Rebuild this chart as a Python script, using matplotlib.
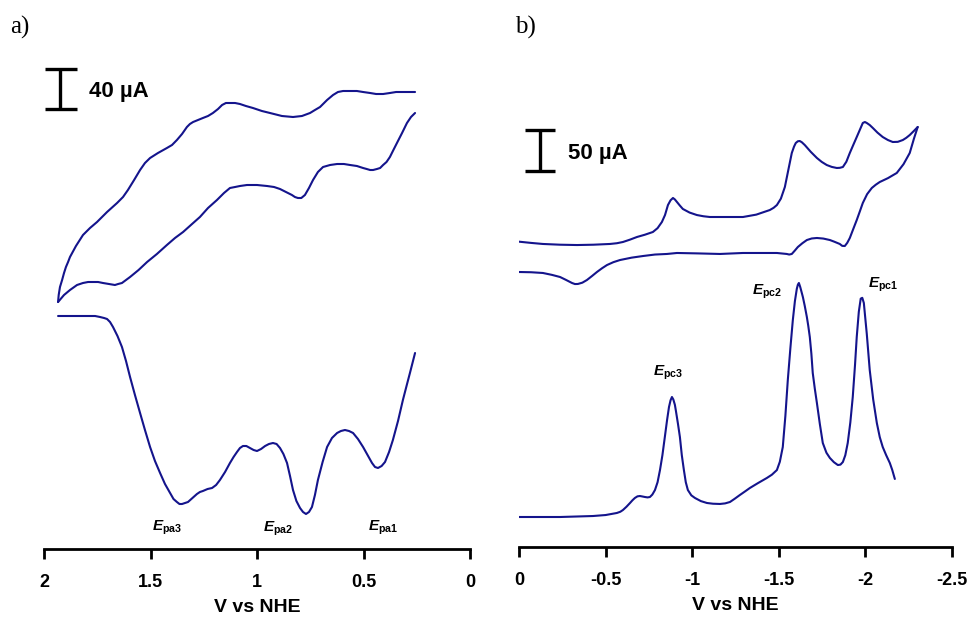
import matplotlib
matplotlib.use('Agg')
import matplotlib.pyplot as plt
import matplotlib.transforms as mtransforms

plt.rcParams['font.family'] = ['Liberation Sans', 'DejaVu Sans']
plt.rcParams['mathtext.fontset'] = 'custom'
plt.rcParams['mathtext.it'] = 'Liberation Sans:italic:bold'
plt.rcParams['mathtext.rm'] = 'Liberation Sans:bold'
plt.rcParams['mathtext.bf'] = 'Liberation Sans:bold'
plt.rcParams['axes.unicode_minus'] = False

LINE = '#14148c'

# ---------------- Panel a (oxidation) ----------------
a_cv_up_V = [1.934, 1.931, 1.925, 1.915, 1.906, 1.897, 1.887, 1.878, 1.850, 1.817,
             1.784, 1.751, 1.704,
             1.657, 1.629, 1.606, 1.577, 1.549, 1.526, 1.502, 1.465, 1.423, 1.399,
             1.376, 1.352, 1.329, 1.315, 1.300, 1.277, 1.254, 1.230, 1.207, 1.183,
             1.164, 1.146, 1.127, 1.103, 1.080, 1.052, 1.019, 0.977, 0.939, 0.883,
             0.831, 0.789, 0.751, 0.728, 0.704, 0.671, 0.643, 0.620, 0.596, 0.563,
             0.531, 0.502, 0.469, 0.441, 0.408, 0.376, 0.347, 0.315, 0.282, 0.258]
a_cv_up_I = [247, 254, 262, 269, 276, 282, 287, 292, 303, 314,
             321, 327, 337,
             346, 352, 359, 369, 379, 386, 391, 396, 401, 404,
             409, 415, 422, 425, 427, 429, 431, 433, 436, 440,
             444, 446, 446, 446, 445, 443, 441, 438, 436, 433,
             432, 433, 436, 439, 442, 449, 454, 457, 458, 458,
             458, 457, 456, 455, 455, 456, 457, 457, 457, 457]
a_cv_lo_V = [0.258, 0.277, 0.296, 0.319, 0.343, 0.362, 0.376, 0.392, 0.408, 0.422,
             0.437, 0.455, 0.469, 0.485, 0.502, 0.531, 0.563, 0.592, 0.624, 0.657,
             0.690, 0.714, 0.737, 0.756, 0.775, 0.792, 0.808, 0.822, 0.836, 0.864,
             0.892, 0.920, 0.953, 1.000, 1.047, 1.080, 1.103, 1.127, 1.155, 1.188,
             1.230, 1.268, 1.305, 1.347, 1.385, 1.423, 1.470, 1.516, 1.556, 1.596,
             1.615, 1.634, 1.652, 1.667, 1.695, 1.723, 1.746, 1.770, 1.793, 1.817,
             1.845, 1.878, 1.906, 1.934]
a_cv_lo_I = [436, 432, 426, 416, 406, 398, 392, 387, 384, 381,
             380, 379, 379, 380, 381, 383, 384, 385, 385, 384,
             382, 377, 369, 361, 354, 351, 351, 352, 354, 357,
             360, 362, 363, 364, 364, 363, 362, 361, 356, 349,
             341, 332, 325, 317, 311, 304, 295, 287, 279, 272,
             269, 266, 265, 264, 265, 266, 267, 267, 267, 266,
             264, 259, 254, 247]
a_dpv_V = [1.934, 1.840, 1.760, 1.737, 1.718, 1.704, 1.690, 1.676, 1.655, 1.634,
           1.615, 1.596, 1.573, 1.549, 1.526, 1.502, 1.479, 1.455, 1.432, 1.408,
           1.392, 1.376, 1.364, 1.352, 1.338, 1.324, 1.303, 1.282, 1.268, 1.254,
           1.232, 1.211, 1.192, 1.174, 1.150, 1.127, 1.110, 1.094, 1.080, 1.066,
           1.050, 1.033, 1.016, 1.000, 0.981, 0.962, 0.944, 0.925, 0.908, 0.892,
           0.876, 0.859, 0.845, 0.831, 0.815, 0.798, 0.784, 0.770, 0.756, 0.742,
           0.728, 0.714, 0.692, 0.671, 0.648, 0.624, 0.606, 0.587, 0.568, 0.549,
           0.526, 0.502, 0.481, 0.460, 0.446, 0.432, 0.415, 0.399, 0.380, 0.362,
           0.338, 0.315, 0.298, 0.282, 0.258]
a_dpv_I = [233, 233, 233, 232, 231, 230, 227, 222, 213, 202,
           188, 172, 154, 136, 119, 102, 88, 76, 65, 56,
           50, 47, 45, 45, 46, 47, 51, 55, 57, 58,
           60, 61, 64, 69, 77, 86, 92, 97, 101, 103,
           103, 101, 99, 98, 100, 103, 105, 106, 105, 101,
           95, 86, 73, 59, 48, 41, 37, 35, 37, 42,
           54, 69, 87, 102, 111, 116, 118, 119, 118, 116,
           110, 102, 94, 86, 82, 81, 83, 87, 97, 109,
           128, 149, 163, 176, 196]
a_ticks = [2, 1.5, 1, 0.5, 0]
a_ticklabels = ['2', '1.5', '1', '0.5', '0']
a_peaks = [r'$E_{\mathrm{pa3}}$', r'$E_{\mathrm{pa2}}$', r'$E_{\mathrm{pa1}}$']
a_peak_V = [1.423, 0.901, 0.408]
a_peak_I = [21, 20, 21]
a_scale = 40

# ---------------- Panel b (reduction) ----------------
b_cv_up_V = [0.000, -0.069, -0.138, -0.237, -0.335, -0.430, -0.525, -0.565, -0.600, -0.641,
             -0.681, -0.727, -0.773, -0.800, -0.825, -0.843, -0.860, -0.875, -0.889, -0.900,
             -0.912, -0.929, -0.946, -0.985, -1.027, -1.065, -1.102, -1.200, -1.293, -1.370,
             -1.448, -1.470, -1.489, -1.512, -1.535, -1.555, -1.575, -1.588, -1.598, -1.610,
             -1.621, -1.633, -1.650, -1.685, -1.720, -1.748, -1.777, -1.806, -1.835, -1.852,
             -1.870, -1.890, -1.910, -1.930, -1.950, -1.968, -1.985, -1.997, -2.008, -2.025,
             -2.043, -2.070, -2.100, -2.130, -2.158, -2.187, -2.216, -2.236, -2.256, -2.280,
             -2.302]
b_cv_up_I = [372.5, 371.0, 369.7, 368.8, 368.4, 368.8, 369.7, 370.6, 372.1, 375.0,
             378.2, 381.0, 384.3, 389.0, 396.5, 405.0, 417.2, 423.0, 425.8, 424.0,
             420.9, 416.5, 412.4, 408.0, 405.0, 403.5, 402.6, 402.6, 402.6, 405.5,
             411.1, 413.8, 417.2, 425.0, 439.2, 460.0, 480.7, 488.5, 492.9, 495.0,
             495.3, 493.8, 490.4, 482.0, 474.6, 469.8, 466.0, 463.7, 462.4, 462.6,
             463.6, 470.0, 480.7, 490.5, 500.2, 509.0, 517.3, 518.5, 517.3, 514.8,
             511.2, 505.5, 500.2, 496.5, 494.1, 494.3, 496.5, 499.2, 502.6, 507.6,
             512.4]
b_cv_lo_V = [-2.302, -2.280, -2.256, -2.220, -2.181, -2.130, -2.083, -2.060, -2.037, -2.010,
             -1.985, -1.968, -1.950, -1.930, -1.910, -1.895, -1.881, -1.866, -1.852, -1.820,
             -1.795, -1.757, -1.720, -1.690, -1.662, -1.636, -1.610, -1.592, -1.575, -1.560,
             -1.546, -1.489, -1.400, -1.293, -1.160, -1.030, -0.912, -0.854, -0.785, -0.716,
             -0.650, -0.583, -0.545, -0.508, -0.479, -0.450, -0.421, -0.392, -0.366, -0.340,
             -0.323, -0.306, -0.270, -0.237, -0.190, -0.138, -0.070, 0.000]
b_cv_lo_I = [512.4, 498.0, 480.7, 467.0, 456.3, 450.0, 445.3, 442.0, 438.0, 430.5,
             419.7, 409.5, 398.9, 388.0, 377.0, 371.0, 367.2, 367.4, 369.7, 372.5,
             374.5, 376.3, 377.0, 376.4, 374.5, 370.6, 366.0, 361.5, 357.5, 356.8,
             357.5, 358.7, 358.7, 358.7, 357.5, 358.2, 358.7, 357.5, 356.8, 355.0,
             353.0, 350.1, 347.5, 344.0, 340.0, 335.5, 330.5, 325.7, 322.5, 320.9,
             320.8, 322.1, 326.0, 329.4, 332.0, 334.3, 335.2, 335.5]
b_dpv_V = [0.000, -0.237, -0.427, -0.500, -0.565, -0.585, -0.600, -0.620, -0.641, -0.655,
           -0.669, -0.684, -0.698, -0.713, -0.727, -0.742, -0.756, -0.770, -0.785, -0.800,
           -0.814, -0.828, -0.842, -0.855, -0.866, -0.875, -0.883, -0.891, -0.900, -0.906,
           -0.918, -0.929, -0.940, -0.952, -0.963, -0.975, -0.995, -1.016, -1.050, -1.085,
           -1.120, -1.160, -1.190, -1.218, -1.245, -1.275, -1.305, -1.333, -1.380, -1.431,
           -1.460, -1.489, -1.506, -1.523, -1.538, -1.552, -1.567, -1.581, -1.593, -1.604,
           -1.610, -1.616, -1.624, -1.639, -1.650, -1.662, -1.670, -1.679, -1.688, -1.696,
           -1.708, -1.720, -1.737, -1.754, -1.775, -1.795, -1.818, -1.841, -1.856, -1.870,
           -1.884, -1.898, -1.913, -1.927, -1.940, -1.950, -1.962, -1.973, -1.982, -1.991,
           -2.008, -2.025, -2.045, -2.066, -2.083, -2.100, -2.120, -2.141, -2.155, -2.170]
b_dpv_I = [36.6, 36.6, 37.8, 39.0, 41.5, 43.0, 45.1, 49.0, 53.7, 57.0,
           59.8, 61.8, 62.2, 61.6, 61.0, 60.5, 61.0, 64.0, 69.5, 79.0,
           93.9, 112.0, 134.2, 155.0, 170.8, 179.0, 183.0, 180.0, 173.5, 166.0,
           150.0, 134.2, 112.0, 93.9, 79.0, 69.5, 63.0, 59.8, 56.0, 53.7,
           52.8, 52.5, 53.2, 54.9, 58.8, 63.4, 67.8, 72.0, 78.0, 84.2,
           88.2, 93.9, 104.0, 122.0, 160.0, 203.7, 243.0, 276.9, 300.0, 315.0,
           320.0, 322.1, 317.0, 305.0, 294.0, 280.6, 270.0, 256.2, 236.0, 212.3,
           193.0, 175.7, 150.0, 126.9, 115.0, 108.6, 103.5, 100.0, 100.5, 103.7,
           112.0, 126.9, 152.0, 183.0, 222.0, 256.2, 287.0, 303.0, 304.0, 297.7,
           260.0, 215.9, 180.0, 151.3, 134.0, 122.0, 112.0, 102.5, 94.0, 83.0]
b_ticks = [0, -0.5, -1, -1.5, -2, -2.5]
b_ticklabels = ['0', '-0.5', '-1', '-1.5', '-2', '-2.5']
b_peaks = [r'$E_{\mathrm{pc3}}$', r'$E_{\mathrm{pc2}}$', r'$E_{\mathrm{pc1}}$']
b_peak_V = [-0.860, -1.431, -2.100]
b_peak_I = [213, 311, 320]
b_scale = 50

W, H = 973, 617
fig = plt.figure(figsize=(W / 100, H / 100), dpi=100)
fig.patch.set_facecolor('white')

axA = fig.add_axes([44 / W, 1 - 549 / H, 426 / W, 509 / H])
axB = fig.add_axes([519 / W, 1 - 547 / H, 433 / W, 507 / H])

LKW = dict(color=LINE, lw=1.5, solid_joinstyle='round', solid_capstyle='round')


def style(ax, ticks, labels):
    for s in ['left', 'right', 'top']:
        ax.spines[s].set_visible(False)
    ax.spines['bottom'].set_linewidth(2.0)
    ax.set_yticks([])
    ax.set_xticks(ticks)
    ax.set_xticklabels(labels, fontsize=13, fontweight='bold')
    ax.tick_params(axis='x', direction='out', length=7, width=2, pad=11)
    ax.set_xlabel('V vs NHE', fontsize=14, fontweight='bold', labelpad=6)
    ax.patch.set_alpha(0)


def scalebar(ax, xc, x0, x1, ybot, value, xt, yt):
    tr = mtransforms.blended_transform_factory(ax.transAxes, ax.transData)
    kw = dict(color='black', lw=2.4, transform=tr, clip_on=False, solid_capstyle='butt')
    ax.plot([xc, xc], [ybot, ybot + value], **kw)
    ax.plot([x0, x1], [ybot, ybot], **kw)
    ax.plot([x0, x1], [ybot + value, ybot + value], **kw)
    ax.text(xt, yt, f'{value} \u00b5A', transform=tr, fontsize=16, fontweight='bold',
            ha='left', va='center')


# panel a
axA.plot(a_cv_up_V, a_cv_up_I, **LKW)
axA.plot(a_cv_lo_V, a_cv_lo_I, **LKW)
axA.plot(a_dpv_V, a_dpv_I, **LKW)
axA.set_xlim(2, 0)
axA.set_ylim(0, 509)
style(axA, a_ticks, a_ticklabels)
for lab, v, i in zip(a_peaks, a_peak_V, a_peak_I):
    axA.text(v, i, lab, fontsize=11, ha='center', va='center')
scalebar(axA, (60 - 44) / 426, (45 - 44) / 426, (77 - 44) / 426, 440, a_scale,
         (89 - 44) / 426, 458)

# panel b
axB.plot(b_cv_up_V, b_cv_up_I, **LKW)
axB.plot(b_cv_lo_V, b_cv_lo_I, **LKW)
axB.plot(b_dpv_V, b_dpv_I, **LKW)
axB.set_xlim(0, -2.5)
axB.set_ylim(0, 507 * 1.22)
style(axB, b_ticks, b_ticklabels)
for lab, v, i in zip(b_peaks, b_peak_V, b_peak_I):
    axB.text(v, i, lab, fontsize=11, ha='center', va='center')
scalebar(axB, (540 - 519) / 433, (525 - 519) / 433, (555 - 519) / 433, 458.7, b_scale,
         (568 - 519) / 433, 479.5)

fig.text(10 / W, 1 - 27 / H, 'a)', fontsize=18, family=['Liberation Serif', 'DejaVu Serif'],
         ha='left', va='center')
fig.text(515 / W, 1 - 27 / H, 'b)', fontsize=18, family=['Liberation Serif', 'DejaVu Serif'],
         ha='left', va='center')

fig.savefig('out.png', dpi=100)
